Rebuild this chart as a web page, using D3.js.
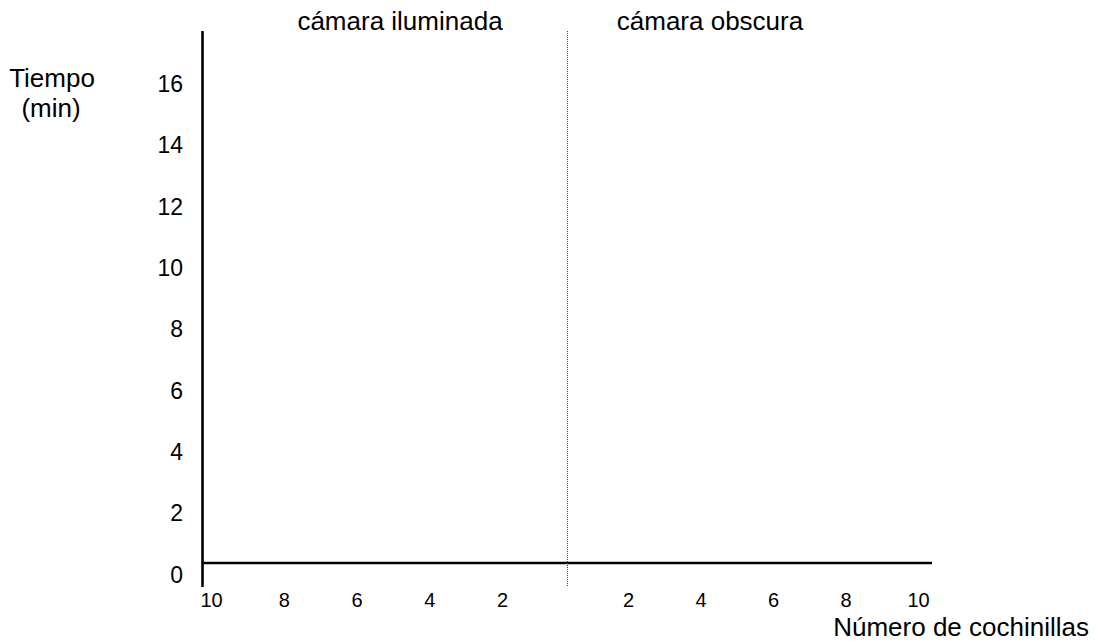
<!DOCTYPE html>
<html>
<head>
<meta charset="utf-8">
<script src="https://cdn.jsdelivr.net/npm/d3@7"></script>
<style>
  html, body { margin: 0; padding: 0; background: #fff; }
  svg text { font-family: Arial, "Liberation Sans", sans-serif; fill: #000; }
</style>
</head>
<body>
<svg id="chart" width="1096" height="643"></svg>
<script>
// ---- data (tick labels only; the chart is an empty template) ----
const yTicks = [0, 2, 4, 6, 8, 10, 12, 14, 16];
const xLeftTicks = [10, 8, 6, 4, 2];
const xRightTicks = [2, 4, 6, 8, 10];
const sectionTitles = ["cámara iluminada", "cámara obscura"];
const yTitle = ["Tiempo", "(min)"];
const xTitle = "Número de cochinillas";

const svg = d3.select("#chart");
const FONT = "Arial, 'Liberation Sans', sans-serif";

// scales
const y = d3.scaleLinear().domain([0, 16]).range([574, 83]);
const xLeft = d3.scaleLinear().domain([10, 2]).range([211, 502]);
const xRight = d3.scaleLinear().domain([2, 10]).range([628, 918]);

const axisTop = 31, axisBottom = 587, axisLineY = 563;
const yAxisX = 202.5, xAxisEnd = 932, dividerX = 567.5;

// y tick labels
const gy = svg.append("g").attr("transform", "translate(183,0)")
  .call(d3.axisLeft(y).tickValues(yTicks).tickSize(0).tickPadding(0).tickFormat(d3.format("d")));
gy.select(".domain").remove();
gy.selectAll("text").attr("font-size", 23).attr("font-family", FONT)
  .attr("dy", "0.36em").attr("fill", "#000");

// x tick labels (left & right halves)
function xAxis(scale, ticks) {
  const g = svg.append("g").attr("transform", "translate(0,593)")
    .call(d3.axisBottom(scale).tickValues(ticks).tickSize(0).tickPadding(0).tickFormat(d3.format("d")));
  g.select(".domain").remove();
  g.selectAll("text").attr("font-size", 20).attr("font-family", FONT)
    .attr("dy", "0.71em").attr("fill", "#000");
}
xAxis(xLeft, xLeftTicks);
xAxis(xRight, xRightTicks);

// axis lines
svg.append("line").attr("x1", yAxisX).attr("x2", yAxisX).attr("y1", axisTop).attr("y2", axisBottom)
  .attr("stroke", "#000").attr("stroke-width", 2.6);
svg.append("line").attr("x1", yAxisX).attr("x2", xAxisEnd).attr("y1", axisLineY).attr("y2", axisLineY)
  .attr("stroke", "#000").attr("stroke-width", 2.6);
// dotted divider
svg.append("line").attr("x1", dividerX).attr("x2", dividerX).attr("y1", axisTop).attr("y2", axisBottom)
  .attr("stroke", "#444").attr("stroke-width", 1).attr("stroke-dasharray", "1,1");

// section titles
const titleX = [400, 710];
svg.selectAll("text.section").data(sectionTitles).enter().append("text")
  .attr("class", "section").attr("x", (d, i) => titleX[i]).attr("y", 30)
  .attr("text-anchor", "middle").attr("font-size", 26).text(d => d);

// y title
svg.append("text").attr("x", 52).attr("y", 87).attr("text-anchor", "middle").attr("font-size", 26).text(yTitle[0]);
svg.append("text").attr("x", 51).attr("y", 117).attr("text-anchor", "middle").attr("font-size", 26).text(yTitle[1]);

// x title
svg.append("text").attr("x", 1089).attr("y", 636).attr("text-anchor", "end").attr("font-size", 26).text(xTitle);
</script>
</body>
</html>
